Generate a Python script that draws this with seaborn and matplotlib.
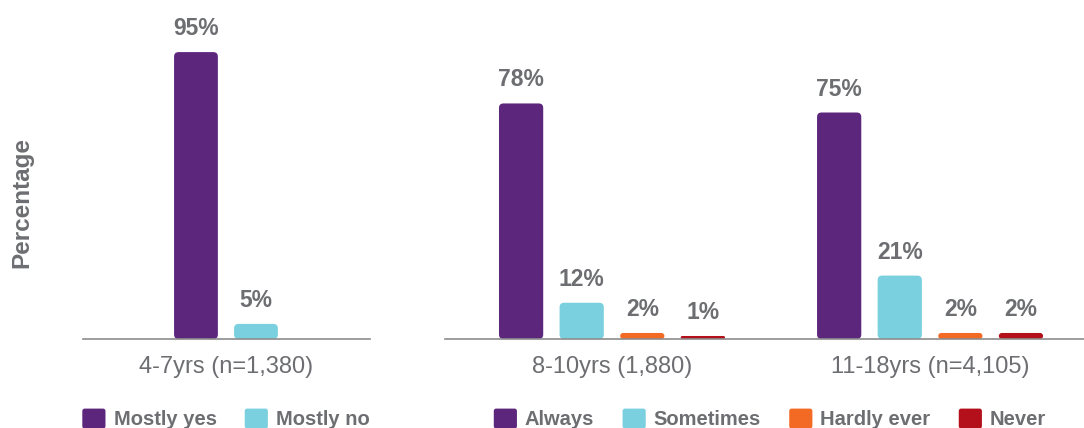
import matplotlib
matplotlib.use("Agg")
import matplotlib.pyplot as plt
from matplotlib.patches import FancyBboxPatch, Patch
from matplotlib.legend_handler import HandlerPatch
import pandas as pd
import seaborn as sns

# Young children (4-7): two answer options
young_group = ["4-7yrs (n=1,380)"]
young_answers = ["Mostly yes", "Mostly no"]
young_values = [95, 5]

# Older children (8-10, 11-18): four answer options
older_groups = ["8-10yrs (1,880)", "11-18yrs (n=4,105)"]
older_answers = ["Always", "Sometimes", "Hardly ever", "Never"]
older_values = {
    "8-10yrs (1,880)": [78, 12, 2, 1],
    "11-18yrs (n=4,105)": [75, 21, 2, 2],
}

PURPLE = "#5d267d"
CYAN = "#7bd0df"
ORANGE = "#f26a24"
RED = "#b3101c"
TEXT = "#6d6e71"
AXIS = "#8c8c8c"

young_palette = [PURPLE, CYAN]
older_palette = [PURPLE, CYAN, ORANGE, RED]

sns.set_theme(style="white")
plt.rcParams["font.family"] = ["Liberation Sans", "DejaVu Sans"]

W, H = 1084, 428
fig = plt.figure(figsize=(W / 100, H / 100), dpi=100)

base_px = 339
ax_h_px = 302  # 0-100 %
ax_left = fig.add_axes([83 / W, (H - base_px) / H, 287 / W, ax_h_px / H])
ax_right = fig.add_axes([445 / W, (H - base_px) / H, 639 / W, ax_h_px / H])

young_df = pd.DataFrame({
    "group": young_group * len(young_answers),
    "answer": young_answers,
    "value": young_values,
})
older_df = pd.DataFrame([
    {"group": g, "answer": a, "value": v}
    for g in older_groups
    for a, v in zip(older_answers, older_values[g])
])

sns.barplot(data=young_df, x="group", y="value", hue="answer",
            hue_order=young_answers, palette=young_palette, width=0.8,
            gap=0.27, ax=ax_left, legend=False, saturation=1, err_kws={"linewidth": 0})
sns.barplot(data=older_df, x="group", y="value", hue="answer",
            hue_order=older_answers, palette=older_palette, width=0.762,
            gap=0.27, ax=ax_right, legend=False, saturation=1, err_kws={"linewidth": 0})

ax_left.set_xlim(-0.953, 0.96)
ax_right.set_xlim(-0.525, 1.484)


def round_bars(ax, radius_px=4.5):
    fig.canvas.draw()
    bbox = ax.get_window_extent()
    x0, x1 = ax.get_xlim()
    y0, y1 = ax.get_ylim()
    xpp = (x1 - x0) / bbox.width
    ypp = (y1 - y0) / bbox.height
    for p in list(ax.patches):
        x, y = p.get_x(), p.get_y()
        w, h = p.get_width(), p.get_height()
        color = p.get_facecolor()
        p.remove()
        r_px = min(radius_px, (h / ypp) / 2, (w / xpp) / 2)
        fb = FancyBboxPatch((x, y), w, h,
                            boxstyle=f"round,pad=0,rounding_size={r_px * xpp}",
                            mutation_aspect=ypp / xpp,
                            facecolor=color, edgecolor="none", zorder=2)
        ax.add_patch(fb)
        ax.annotate(f"{h:.0f}%", (x + w / 2, h), xytext=(0, 12.2),
                    textcoords="offset points", ha="center", va="baseline",
                    fontsize=16.5, fontweight="bold", color=TEXT,
                    annotation_clip=False)


for ax in (ax_left, ax_right):
    ax.set_ylim(0, 100)
    ax.set_xlabel("")
    ax.set_ylabel("")
    ax.set_yticks([])
    for s in ("top", "right", "left"):
        ax.spines[s].set_visible(False)
    ax.spines["bottom"].set_color(AXIS)
    ax.spines["bottom"].set_linewidth(1.2)
    ax.spines["bottom"].set_zorder(3)
    ax.tick_params(axis="x", length=0, pad=12.5, labelsize=17, labelcolor=TEXT)
    ax.patch.set_alpha(0)

round_bars(ax_left)
round_bars(ax_right)

fig.text(22 / W, (H - 203) / H, "Percentage", rotation=90, ha="center",
         va="center", fontsize=17.5, fontweight="bold", color=TEXT)


class RoundHandler(HandlerPatch):
    def create_artists(self, legend, orig_handle, xdescent, ydescent,
                       width, height, fontsize, trans):
        p = FancyBboxPatch((-xdescent, -ydescent), width, height,
                           boxstyle=f"round,pad=0,rounding_size={min(width, height) * 0.12}",
                           facecolor=orig_handle.get_facecolor(),
                           edgecolor="none", transform=trans)
        return [p]


def add_legend(labels, colors, cx):
    handles = [Patch(facecolor=c, label=l) for l, c in zip(labels, colors)]
    leg = fig.legend(handles=handles, loc="center", bbox_to_anchor=(cx / W, 9 / H),
                     ncol=len(labels), frameon=False, borderpad=0,
                     handlelength=1.15, handleheight=1.15, handletextpad=0.4,
                     columnspacing=1.4, handler_map={Patch: RoundHandler()},
                     prop={"size": 14.5, "weight": "bold"})
    for t in leg.get_texts():
        t.set_color(TEXT)


add_legend(young_answers, young_palette, 226)
add_legend(older_answers, older_palette, 770)

fig.savefig("out.png", dpi=100, facecolor="white")
